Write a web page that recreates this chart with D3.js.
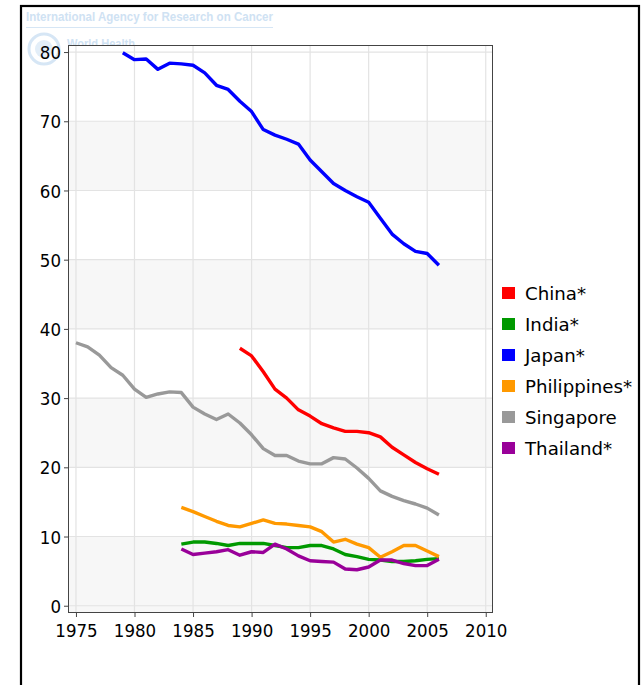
<!DOCTYPE html>
<html>
<head>
<meta charset="utf-8">
<script src="https://cdn.jsdelivr.net/npm/d3@7"></script>
<style>
  html, body { margin: 0; padding: 0; background: #fff; }
  svg { display: block; }
</style>
</head>
<body>
<svg id="chart" width="642" height="685"></svg>
<script>
const countries = ["China*", "India*", "Japan*", "Philippines*", "Singapore", "Thailand*"];
const colors = ["#ff0000", "#009900", "#0000ff", "#ff9900", "#999999", "#990099"];

const chinaYears = d3.range(1989, 2007);
const chinaValues = [37.2, 36.1, 33.8, 31.3, 30.0, 28.3, 27.4, 26.3, 25.7, 25.2, 25.2, 25.0, 24.4, 22.9, 21.8, 20.7, 19.8, 19.0];

const indiaYears = d3.range(1984, 2007);
const indiaValues = [8.9, 9.2, 9.2, 9.0, 8.7, 9.0, 9.0, 9.0, 8.7, 8.4, 8.4, 8.7, 8.7, 8.2, 7.4, 7.1, 6.7, 6.6, 6.4, 6.4, 6.5, 6.7, 6.8];

const japanYears = d3.range(1979, 2007);
const japanValues = [79.9, 78.9, 79.0, 77.5, 78.4, 78.3, 78.1, 77.0, 75.2, 74.6, 72.9, 71.4, 68.8, 68.0, 67.4, 66.7, 64.4, 62.7, 61.0, 60.0, 59.1, 58.3, 56.0, 53.7, 52.3, 51.2, 50.9, 49.2];

const philippinesYears = d3.range(1984, 2007);
const philippinesValues = [14.2, 13.6, 12.9, 12.2, 11.6, 11.4, 11.9, 12.4, 11.9, 11.8, 11.6, 11.4, 10.7, 9.2, 9.6, 8.9, 8.4, 7.0, 7.8, 8.7, 8.7, 7.9, 7.1];

const singaporeYears = d3.range(1975, 2007);
const singaporeValues = [38.0, 37.4, 36.2, 34.4, 33.3, 31.3, 30.1, 30.6, 30.9, 30.8, 28.7, 27.7, 26.9, 27.7, 26.4, 24.7, 22.7, 21.7, 21.7, 20.9, 20.5, 20.5, 21.4, 21.2, 19.9, 18.4, 16.6, 15.8, 15.2, 14.7, 14.1, 13.1];

const thailandYears = d3.range(1984, 2007);
const thailandValues = [8.2, 7.4, 7.6, 7.8, 8.1, 7.3, 7.8, 7.7, 8.9, 8.2, 7.2, 6.5, 6.4, 6.3, 5.3, 5.2, 5.6, 6.6, 6.6, 6.1, 5.8, 5.8, 6.7];

const xTicks = [1975, 1980, 1985, 1990, 1995, 2000, 2005, 2010];
const yTicks = [0, 10, 20, 30, 40, 50, 60, 70, 80];

(function () {
const seriesYears = [chinaYears, indiaYears, japanYears, philippinesYears, singaporeYears, thailandYears];
const seriesValues = [chinaValues, indiaValues, japanValues, philippinesValues, singaporeValues, thailandValues];

const series = countries.map((name, i) => ({
  name, color: colors[i],
  points: seriesYears[i].map((yr, j) => ({ year: yr, value: seriesValues[i][j] }))
}));

const svg = d3.select("#chart");
const FONT = "'DejaVu Sans Condensed', 'DejaVu Sans', sans-serif";
const LFONT = "'DejaVu Sans', sans-serif";

// Outer frame
svg.append("rect").attr("x", 21).attr("y", 6).attr("width", 618).attr("height", 700)
  .attr("fill", "#fff").attr("stroke", "#000").attr("stroke-width", 2.2);

// Watermark
const wm = svg.append("g").attr("fill", "#cfe2f3");
wm.append("text").attr("x", 26).attr("y", 21)
  .attr("font-family", "'Liberation Sans', Arial, sans-serif").attr("font-weight", "bold")
  .attr("font-size", 13.5).attr("textLength", 247).attr("lengthAdjust", "spacingAndGlyphs")
  .text("International Agency for Research on Cancer");
wm.append("line").attr("x1", 26).attr("x2", 273).attr("y1", 27.5).attr("y2", 27.5)
  .attr("stroke", "#d6e6f5").attr("stroke-width", 1);
wm.append("circle").attr("cx", 44).attr("cy", 49).attr("r", 15)
  .attr("fill", "none").attr("stroke", "#d6e6f5").attr("stroke-width", 3);
wm.append("circle").attr("cx", 44).attr("cy", 49).attr("r", 9)
  .attr("fill", "#e3eef8");
wm.append("text").attr("x", 67).attr("y", 48)
  .attr("font-family", "'Liberation Sans', Arial, sans-serif").attr("font-weight", "bold")
  .attr("font-size", 13.5).attr("textLength", 68).attr("lengthAdjust", "spacingAndGlyphs")
  .text("World Health");

const pL = 68, pT = 45, pR = 493, pB = 613;
const x = d3.scaleLinear().domain([1974.32, 2010.62]).range([pL, pR]);
const y = d3.scaleLinear().domain([-1.05, 81.02]).range([pB, pT]);

const plot = svg.append("g");
plot.append("rect").attr("x", pL).attr("y", pT).attr("width", pR - pL).attr("height", pB - pT)
  .attr("fill", "#fff");

// alternating bands
[0, 20, 40, 60].forEach(v => {
  plot.append("rect").attr("x", pL).attr("width", pR - pL)
    .attr("y", y(v + 10)).attr("height", y(v) - y(v + 10)).attr("fill", "#f7f7f7");
});
plot.append("rect").attr("x", pL).attr("width", pR - pL)
  .attr("y", y(0)).attr("height", pB - y(0)).attr("fill", "#f7f7f7");

// gridlines
plot.selectAll(".gx").data(xTicks).enter().append("line")
  .attr("x1", d => x(d)).attr("x2", d => x(d)).attr("y1", pT).attr("y2", pB)
  .attr("stroke", "#e3e3e3").attr("stroke-width", 1.2);
plot.selectAll(".gy").data(yTicks).enter().append("line")
  .attr("x1", pL).attr("x2", pR).attr("y1", d => y(d)).attr("y2", d => y(d))
  .attr("stroke", "#e3e3e3").attr("stroke-width", 1.2);

// lines
const line = d3.line().x(d => x(d.year)).y(d => y(d.value));
plot.selectAll(".series").data(series).enter().append("path")
  .attr("d", d => line(d.points)).attr("fill", "none")
  .attr("stroke", d => d.color).attr("stroke-width", 3.4)
  .attr("stroke-linejoin", "round").attr("stroke-linecap", "butt");

// border
svg.append("rect").attr("x", pL + 0.5).attr("y", pT + 0.5)
  .attr("width", pR - pL - 1).attr("height", pB - pT - 1)
  .attr("fill", "none").attr("stroke", "#444").attr("stroke-width", 1);

// axes
const yAxis = d3.axisLeft(y).tickValues(yTicks).tickSize(4).tickPadding(3);
const gy = svg.append("g").attr("transform", `translate(${pL},0)`).call(yAxis);
gy.select(".domain").remove();
gy.selectAll("line").attr("stroke", "#444");
gy.selectAll("text").attr("font-family", FONT).attr("font-size", 18.5).attr("fill", "#000")
  .attr("dy", "0.36em");

const xAxis = d3.axisBottom(x).tickValues(xTicks).tickFormat(d3.format("d")).tickSize(4).tickPadding(7);
const gx = svg.append("g").attr("transform", `translate(0,${pB})`).call(xAxis);
gx.select(".domain").remove();
gx.selectAll("line").attr("stroke", "#444");
gx.selectAll("text").attr("font-family", FONT).attr("font-size", 18.5).attr("fill", "#000");

// legend
const lg = svg.append("g");
const rows = lg.selectAll("g").data(series).enter().append("g")
  .attr("transform", (d, i) => `translate(502,${293 + i * 31})`);
rows.append("rect").attr("x", 0).attr("y", -6).attr("width", 13).attr("height", 12)
  .attr("fill", d => d.color);
rows.append("text").attr("x", 23).attr("y", 0).attr("dy", "0.36em")
  .attr("font-family", LFONT).attr("font-size", 18.2).attr("fill", "#000")
  .text(d => d.name);
})();
</script>
</body>
</html>
